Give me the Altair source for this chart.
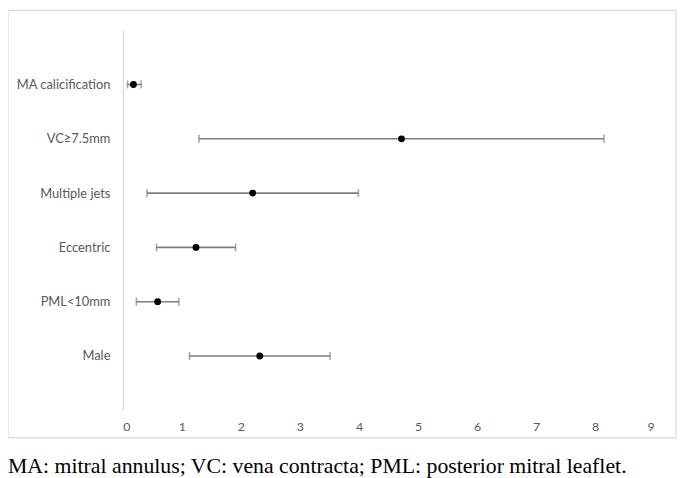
import altair as alt
import pandas as pd

factors = ["MA calicification", "VC\u22657.5mm", "Multiple jets", "Eccentric", "PML<10mm", "Male"]
estimate = [0.18, 4.72, 2.20, 1.24, 0.59, 2.32]
lower = [0.08, 1.29, 0.41, 0.57, 0.23, 1.13]
upper = [0.31, 8.15, 3.99, 1.91, 0.95, 3.51]
x_ticks = [0, 1, 2, 3, 4, 5, 6, 7, 8, 9]
caption = "MA: mitral annulus; VC: vena contracta; PML: posterior mitral leaflet."

n = len(factors)
rows = list(range(n, 0, -1))  # top row first
df = pd.DataFrame({"factor": factors, "row": rows, "est": estimate, "lo": lower, "hi": upper})

label_map = "{" + ",".join(f"'{r}':'{f}'" for r, f in zip(rows, factors)) + "}"
label_expr = f"{label_map}[toString(datum.value)]"

W, H = 537, 384

xs = alt.Scale(domain=[0, 9], nice=False, zero=False)
ys = alt.Scale(domain=[0, n + 1], nice=False, zero=False)

xaxis = alt.Axis(values=x_ticks, format="d", domain=False, ticks=False, grid=False, title=None,
                 labelFont="Lato", labelFontSize=12.5, labelColor="#595959", labelPadding=10)
yaxis = alt.Axis(values=rows, labelExpr=label_expr, domain=True, domainColor="#d9d9d9",
                 domainWidth=1.2, ticks=False, grid=False, title=None,
                 labelFont="Lato", labelFontSize=13, labelColor="#595959", labelPadding=13)

base = alt.Chart(df)

whisk = base.mark_rule(color="#7f7f7f", strokeWidth=1.6).encode(
    x=alt.X("lo:Q", scale=xs, axis=xaxis),
    x2="hi:Q",
    y=alt.Y("row:Q", scale=ys, axis=yaxis),
)
cap_lo = base.mark_tick(color="#7f7f7f", orient="vertical", size=8, thickness=1.6).encode(
    x=alt.X("lo:Q", scale=xs), y=alt.Y("row:Q", scale=ys))
cap_hi = base.mark_tick(color="#7f7f7f", orient="vertical", size=8, thickness=1.6).encode(
    x=alt.X("hi:Q", scale=xs), y=alt.Y("row:Q", scale=ys))
pts = base.mark_point(filled=True, color="black", size=48, opacity=1, shape="circle").encode(
    x=alt.X("est:Q", scale=xs), y=alt.Y("row:Q", scale=ys))

frame = alt.Chart(pd.DataFrame({"a": [0]})).mark_rect(
    fill="white", fillOpacity=0, stroke="#d9d9d9", strokeWidth=1.2).encode(
    x=alt.value(-116), x2=alt.value(W + 22), y=alt.value(-20), y2=alt.value(H + 28))

cap_text = alt.Chart(pd.DataFrame({"t": [caption]})).mark_text(
    font="Liberation Serif", fontSize=22, align="left", baseline="alphabetic", color="black").encode(
    text="t:N", x=alt.value(-116), y=alt.value(H + 63))

chart = alt.layer(frame, whisk, cap_lo, cap_hi, pts, cap_text).properties(
    width=W, height=H,
    background="white",
    autosize=alt.AutoSizeParams(type="none"),
    padding={"left": 116, "top": 20, "right": 23, "bottom": 66},
).configure_view(strokeWidth=0, stroke="transparent")

chart.save("out.html", embed_options={"renderer": "svg", "actions": False})
